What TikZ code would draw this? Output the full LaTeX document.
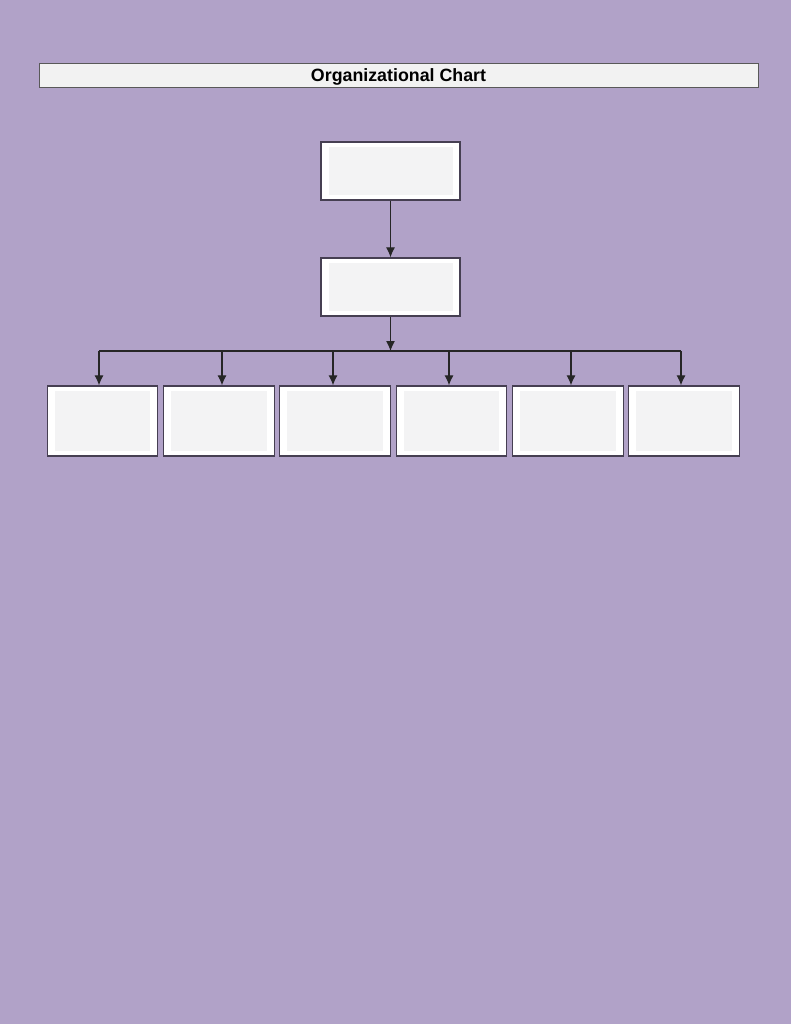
\documentclass[tikz,border=0pt]{standalone}
\usepackage{fontspec}
\setmainfont{Liberation Sans}
\usetikzlibrary{arrows.meta,calc}
\definecolor{bgpurple}{HTML}{B1A2C8}
\definecolor{edgecol}{HTML}{463F52}
\definecolor{innergray}{HTML}{F3F3F4}
\definecolor{titlefill}{HTML}{F2F2F2}
\tikzset{
  orgbox/.style={draw=edgecol, line width=1.3pt, fill=white, inner sep=0pt,
    path picture={\fill[innergray] ([shift={(7.5pt,5pt)}]path picture bounding box.south west) rectangle ([shift={(-7.5pt,-5pt)}]path picture bounding box.north east);}},
  topbox/.style={orgbox, minimum width=139pt, minimum height=58pt},
  subbox/.style={orgbox, minimum width=110.5pt, minimum height=70pt},
  link/.style={draw=black!85, line width=1.1pt},
  arr/.style={link, -{Latex[length=10pt,width=9pt]}},
  titlebar/.style={draw=black!65, line width=0.9pt, fill=titlefill, minimum width=719pt, minimum height=24pt, inner sep=0pt, text height=12.5pt, text depth=0pt, font=\fontsize{17.8}{20}\selectfont\bfseries}
}
\begin{document}
\begin{tikzpicture}[x=1pt,y=-1pt]
\fill[bgpurple] (0,0) rectangle (791,1024);
\useasboundingbox (0,0) rectangle (791,1024);
\node[titlebar] (title) at (398.5,75) {Organizational Chart};
\node[topbox] (ceo) at (390.5,171) {};
\node[topbox] (mgr) at (390.5,287) {};
\node[subbox] (c1) at (102.5,421) {};
\node[subbox] (c2) at (219,421) {};
\node[subbox] (c3) at (335,421) {};
\node[subbox] (c4) at (451.5,421) {};
\node[subbox] (c5) at (568,421) {};
\node[subbox] (c6) at (684,421) {};
\coordinate (b1) at (99,351);
\coordinate (b2) at (222,351);
\coordinate (b3) at (333,351);
\coordinate (b4) at (449,351);
\coordinate (b5) at (571,351);
\coordinate (b6) at (681,351);
\draw[arr] (ceo.south) -- (mgr.north);
\draw[arr] (mgr.south) -- (mgr.south |- b1);
\draw[link] (b1) -- (b6);
\foreach \i in {1,...,6} {\draw[arr] (b\i) -- (b\i |- c\i.north);}
\end{tikzpicture}
\end{document}
